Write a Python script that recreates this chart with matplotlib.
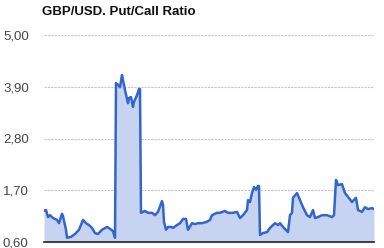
import matplotlib
matplotlib.use("Agg")
import matplotlib.pyplot as plt

# time index (no axis labels in the source) and put/call ratio
t = [0, 2, 4, 6, 9, 13, 15, 18, 19, 22, 23, 27, 31, 35, 39, 42, 45, 48, 51, 54,
     58, 63, 66, 69, 71, 72, 74, 76, 78, 79, 81, 84, 85, 87, 89, 90, 93, 95, 96,
     97, 101, 104, 108, 111, 114, 118, 119, 120, 122, 124, 127, 129, 133, 136,
     139, 142, 144, 148, 151, 154, 158, 163, 166, 168, 173, 176, 181, 184, 189,
     193, 196, 199, 203, 204, 206, 208, 210, 212, 214, 215, 216, 219, 223, 226,
     231, 234, 236, 239, 244, 246, 248, 249, 253, 256, 259, 263, 266, 269, 271,
     274, 278, 283, 288, 290, 292, 294, 298, 301, 304, 308, 312, 314, 318, 321,
     324, 328, 330]
ratio = [1.26, 1.28, 1.13, 1.17, 1.11, 1.07, 1.00, 1.20, 1.15, 0.86, 0.69, 0.71,
         0.77, 0.86, 1.07, 1.00, 0.96, 0.90, 0.79, 0.77, 0.86, 0.92, 0.88, 0.83,
         0.69, 3.98, 3.94, 3.89, 4.15, 4.04, 3.83, 3.55, 3.66, 3.68, 3.47, 3.58,
         3.72, 3.85, 3.85, 1.22, 1.26, 1.22, 1.22, 1.17, 1.24, 1.47, 1.39, 1.03,
         0.86, 0.92, 0.92, 0.90, 0.96, 1.00, 1.09, 1.09, 0.86, 1.00, 0.98, 1.00,
         1.00, 1.03, 1.07, 1.17, 1.22, 1.22, 1.26, 1.22, 1.22, 1.24, 1.11, 1.17,
         1.28, 1.49, 1.45, 1.64, 1.77, 1.71, 1.79, 1.79, 0.75, 0.79, 0.81, 0.90,
         1.00, 0.96, 1.00, 0.92, 0.81, 1.17, 1.22, 1.54, 1.64, 1.49, 1.34, 1.17,
         1.13, 1.28, 1.11, 1.13, 1.17, 1.17, 1.13, 1.17, 1.92, 1.81, 1.83, 1.64,
         1.56, 1.45, 1.54, 1.28, 1.24, 1.34, 1.30, 1.32, 1.30]

yticks = [0.60, 1.70, 2.80, 3.90, 5.00]
ylabels = ["0,60", "1,70", "2,80", "3,90", "5,00"]

plt.rcParams['font.family'] = ['Liberation Sans', 'DejaVu Sans']

fig = plt.figure(figsize=(3.84, 2.48), dpi=100)
ax = fig.add_axes([44 / 384, 6 / 248, 330 / 384, 207 / 248])

ax.fill_between(t, 0.6, ratio, color='#c6d4f1', lw=0)
ax.plot(t, ratio, color='#3366cc', lw=1.8, solid_joinstyle='round')

ax.set_xlim(0, 330)
ax.set_ylim(0.6, 5.0)
ax.set_xticks([])
ax.set_yticks(yticks)
ax.set_yticklabels(ylabels, fontsize=9.5, color='#444444')
ax.tick_params(axis='y', length=0, pad=11)

for v in yticks[1:]:
    ax.axhline(v, color='#cbbfd2', lw=0.8, ls=(0, (2, 1)), zorder=0)

for s in ['top', 'right', 'left']:
    ax.spines[s].set_visible(False)
ax.spines['bottom'].set_color('#222222')
ax.spines['bottom'].set_linewidth(1.2)

fig.text(42 / 384, 1 - 12 / 248, 'GBP/USD. Put/Call Ratio', fontsize=9.5,
         fontweight='bold', va='center', ha='left', color='#111111')

fig.savefig('out.png', dpi=100)
